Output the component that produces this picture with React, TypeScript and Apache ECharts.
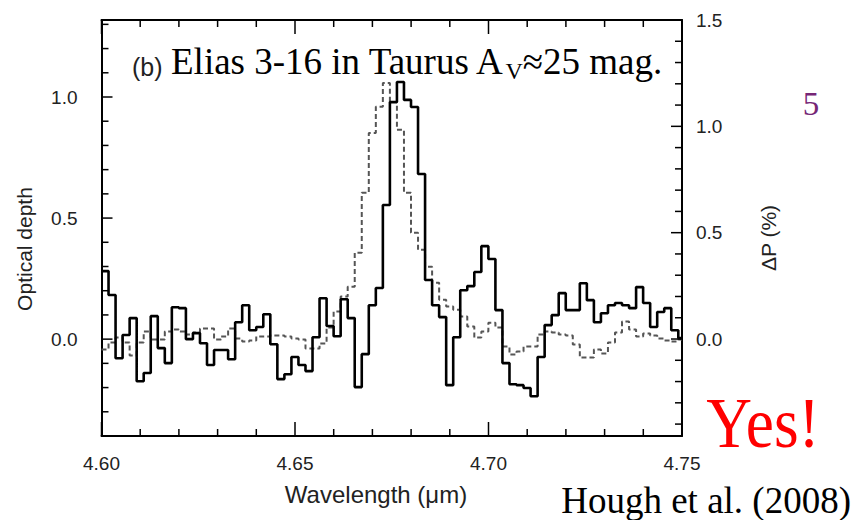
import React, { useEffect, useRef } from "react";
import * as echarts from "echarts";

// Optical depth (left axis), one value per wavelength bin
const opticalDepth = [
  0.281, 0.182, -0.079, 0.017, 0.087, -0.174, -0.14, 0.095, -0.037, -0.099,
  0.132, 0.128, 0.0, 0.025, -0.017, -0.107, -0.045, -0.045, -0.083, 0.07,
  0.14, 0.037, 0.05, 0.103, -0.021, -0.165, -0.145, -0.074, -0.107, -0.132,
  0.008, 0.169, 0.054, 0.012, 0.165, 0.087, -0.198, -0.062, 0.14, 0.211,
  0.554, 0.979, 1.062, 0.988, 0.959, 0.682, 0.244, 0.14, 0.091, -0.19,
  0.008, 0.202, 0.219, 0.277, 0.384, 0.331, 0.12, -0.099, -0.186, -0.19,
  -0.202, -0.236, -0.074, 0.058, 0.099, 0.19, 0.12, 0.12, 0.231, 0.161,
  0.07, 0.107, 0.14, 0.149, 0.14, 0.128, 0.215, 0.149, 0.05, 0.112,
  0.128, 0.037, 0.004,
];

// Delta P in % (right axis), one value per wavelength bin
const deltaP = [
  -0.049, -0.016, 0.007, -0.016, -0.077, -0.016, 0.035, -0.002, -0.002, 0.035,
  0.045, 0.035, 0.021, 0.031, 0.049, 0.049, -0.002, 0.012, 0.049, 0.002,
  -0.012, -0.007, 0.012, 0.012, 0.016, 0.016, 0.012, 0.002, -0.002, -0.045,
  -0.045, -0.021, 0.054, 0.129, 0.2, 0.246, 0.406, 0.688, 0.969, 1.092,
  1.204, 1.115, 0.984, 0.688, 0.5, 0.42, 0.34, 0.265, 0.185, 0.153,
  0.138, 0.106, 0.059, 0.007, 0.035, 0.077, 0.054, -0.035, -0.073, -0.059,
  -0.035, -0.035, 0.021, 0.035, 0.031, 0.021, 0.016, -0.026, -0.087, -0.087,
  -0.049, -0.068, -0.016, 0.031, 0.082, 0.045, 0.012, 0.026, 0.016, 0.002,
  -0.007, -0.012, -0.002,
];

const wavelengthStart = 4.6;
const wavelengthEnd = 4.75;
const binWidth = 0.0018176;

// tick values
const xTickLabels = [4.6, 4.65, 4.7, 4.75];
const xMinorTicks = [4.61, 4.62, 4.63, 4.64, 4.66, 4.67, 4.68, 4.69, 4.71, 4.72, 4.73, 4.74];
const leftLabelValues = [0, 0.5, 1.0];
const leftMajorTicks = [0, 0.5, 1.0];
const leftMinorTicks = [-0.3, -0.2, -0.1, 0.1, 0.2, 0.3, 0.4, 0.6, 0.7, 0.8, 0.9, 1.1, 1.2, 1.3];
const rightLabelValues = [0, 0.5, 1.0, 1.5];
const rightMajorTicks = [0, 0.5, 1.0];
const rightMinorTicks = [-0.4, -0.3, -0.2, -0.1, 0.1, 0.2, 0.3, 0.4, 0.6, 0.7, 0.8, 0.9, 1.1, 1.2, 1.3, 1.4];

const toSteps = (vals: number[]) => {
  const pts: [number, number][] = vals.map((v, i) => [wavelengthStart + i * binWidth, v]);
  pts.push([wavelengthEnd, vals[vals.length - 1]]);
  return pts;
};

const SANS = "Liberation Sans";
const SERIF = "Liberation Serif";
const MAJOR_LEN = 14;
const MINOR_LEN = 7;
const tickLineStyle = { stroke: "#000", lineWidth: 1.5 };

export default function App() {
  const ref = useRef<HTMLDivElement>(null);
  useEffect(() => {
    document.body.style.margin = "0";
    const chart = echarts.init(ref.current!, null, { renderer: "svg" });
    const frameLine = { show: true, onZero: false, lineStyle: { color: "#000", width: 2 } };
    const labelStyle = { fontSize: 19, color: "#222", fontFamily: SANS };

    const xTickData = [
      ...xTickLabels.map((v) => [v, 0, 1]),
      ...xMinorTicks.map((v) => [v, 0, 0]),
    ];
    const leftTickData = [
      ...leftMajorTicks.map((v) => [4.6, v, 1]),
      ...leftMinorTicks.map((v) => [4.6, v, 0]),
    ];
    const rightTickData = [
      ...rightMajorTicks.map((v) => [4.6, v, 1]),
      ...rightMinorTicks.map((v) => [4.6, v, 0]),
    ];

    chart.setOption({
      animation: false,
      backgroundColor: "#fff",
      grid: { left: 101.5, right: 171, top: 20, bottom: 84, containLabel: false },
      xAxis: [
        {
          type: "value", position: "bottom", min: 4.6, max: 4.75, interval: 0.05,
          axisLine: frameLine, axisTick: { show: false }, minorTick: { show: false },
          axisLabel: { ...labelStyle, margin: 18, customValues: xTickLabels, formatter: (v: number) => v.toFixed(2) },
          splitLine: { show: false },
        },
        {
          type: "value", position: "top", min: 4.6, max: 4.75, interval: 0.05,
          axisLine: frameLine, axisTick: { show: false }, axisLabel: { show: false },
          splitLine: { show: false },
        },
      ],
      yAxis: [
        {
          type: "value", position: "left", min: -0.4, max: 1.318,
          axisLine: frameLine, axisTick: { show: false },
          axisLabel: { ...labelStyle, margin: 24, customValues: leftLabelValues, formatter: (v: number) => v.toFixed(1) },
          splitLine: { show: false },
        },
        {
          type: "value", position: "right", min: -0.456, max: 1.5,
          axisLine: frameLine, axisTick: { show: false },
          axisLabel: { ...labelStyle, margin: 14, customValues: rightLabelValues, formatter: (v: number) => v.toFixed(1) },
          splitLine: { show: false },
        },
      ],
      series: [
        {
          name: "ΔP", type: "line", step: "end", xAxisIndex: 0, yAxisIndex: 1,
          data: toSteps(deltaP), symbol: "none", z: 2,
          lineStyle: { color: "#555", width: 2, type: [5, 3] },
        },
        {
          name: "Optical depth", type: "line", step: "end", xAxisIndex: 0, yAxisIndex: 0,
          data: toSteps(opticalDepth), symbol: "none", z: 3,
          lineStyle: { color: "#000", width: 2.6 },
        },
        {
          type: "custom", xAxisIndex: 0, yAxisIndex: 0, z: 5, silent: true,
          data: xTickData,
          renderItem: (params: any, api: any) => {
            const cs = params.coordSys;
            const px = api.coord([api.value(0), 0])[0];
            const len = api.value(2) === 1 ? MAJOR_LEN : MINOR_LEN;
            const bottom = cs.y + cs.height;
            return {
              type: "group",
              children: [
                { type: "line", shape: { x1: px, y1: bottom, x2: px, y2: bottom - len }, style: tickLineStyle },
                { type: "line", shape: { x1: px, y1: cs.y, x2: px, y2: cs.y + len }, style: tickLineStyle },
              ],
            };
          },
        },
        {
          type: "custom", xAxisIndex: 0, yAxisIndex: 0, z: 5, silent: true,
          data: leftTickData,
          renderItem: (params: any, api: any) => {
            const cs = params.coordSys;
            const py = api.coord([api.value(0), api.value(1)])[1];
            const len = api.value(2) === 1 ? 11 : MINOR_LEN;
            return { type: "line", shape: { x1: cs.x, y1: py, x2: cs.x + len, y2: py }, style: tickLineStyle };
          },
        },
        {
          type: "custom", xAxisIndex: 0, yAxisIndex: 1, z: 5, silent: true,
          data: rightTickData,
          renderItem: (params: any, api: any) => {
            const cs = params.coordSys;
            const py = api.coord([api.value(0), api.value(1)])[1];
            const len = api.value(2) === 1 ? 11 : MINOR_LEN;
            const right = cs.x + cs.width;
            return { type: "line", shape: { x1: right, y1: py, x2: right - len, y2: py }, style: tickLineStyle };
          },
        },
      ],
      graphic: [
        {
          type: "text", x: 24, y: 249, rotation: Math.PI / 2,
          style: { text: "Optical depth", fontSize: 21, fontFamily: SANS, fill: "#222", align: "center", verticalAlign: "middle", textAlign: "center", textVerticalAlign: "middle" },
        },
        {
          type: "text", x: 768, y: 238, rotation: Math.PI / 2,
          style: { text: "ΔP (%)", fontSize: 21, fontFamily: SANS, fill: "#222", align: "center", verticalAlign: "middle", textAlign: "center", textVerticalAlign: "middle" },
        },
        {
          type: "text", x: 376, y: 494,
          style: { text: "Wavelength (μm)", fontSize: 24, fontFamily: SANS, fill: "#222", align: "center", verticalAlign: "middle", textAlign: "center", textVerticalAlign: "middle" },
        },
        {
          type: "text", x: 132, y: 67,
          style: { text: "(b)", fontSize: 25, fontFamily: SANS, fill: "#222", align: "left", verticalAlign: "middle", textAlign: "left", textVerticalAlign: "middle" },
        },
        {
          type: "text", x: 171, y: 61,
          style: {
            text: "{a|Elias 3-16 in Taurus A}{s|V}{a|≈25 mag.}",
            align: "left", verticalAlign: "middle", textAlign: "left", textVerticalAlign: "middle",
            rich: {
              a: { fontSize: 37, fontFamily: SERIF, fill: "#000", color: "#000", lineHeight: 44 },
              s: { fontSize: 24, fontFamily: SERIF, fill: "#000", color: "#000", lineHeight: 14, verticalAlign: "bottom" },
            },
          },
        },
        {
          type: "text", x: 811, y: 104,
          style: { text: "5", fontSize: 33, fontFamily: SERIF, fill: "#762676", align: "center", verticalAlign: "middle", textAlign: "center", textVerticalAlign: "middle" },
        },
        {
          type: "text", x: 763, y: 423, scaleX: 0.88,
          style: { text: "Yes!", fontSize: 72, fontFamily: SERIF, fill: "#ff0000", align: "center", verticalAlign: "middle", textAlign: "center", textVerticalAlign: "middle" },
        },
        {
          type: "text", x: 851, y: 500,
          style: { text: "Hough et al. (2008)", fontSize: 37, fontFamily: SERIF, fill: "#000", align: "right", verticalAlign: "middle", textAlign: "right", textVerticalAlign: "middle" },
        },
      ],
    });
    return () => chart.dispose();
  }, []);
  return <div ref={ref} style={{ width: 853, height: 520 }} />;
}
